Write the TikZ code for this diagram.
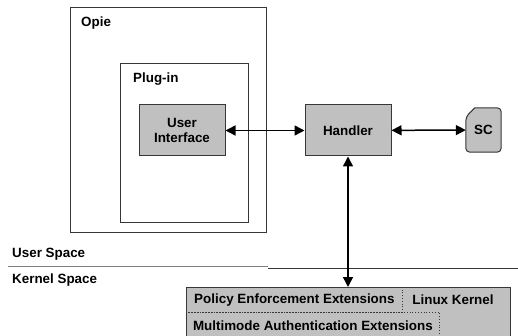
\documentclass[tikz,border=0pt]{standalone}
\usepackage{fontspec}
\setmainfont{Liberation Sans}
\usetikzlibrary{arrows.meta, positioning}
\definecolor{boxgray}{RGB}{192,192,192}
\definecolor{linegray}{RGB}{55,55,55}

\begin{document}
\begin{tikzpicture}[x=1pt, y=-1pt,
	font=\fontsize{13.4}{15.5}\selectfont\bfseries,
	frame/.style={draw=linegray, line width=1pt, anchor=north west, inner sep=0pt},
	block/.style={draw=linegray, line width=1pt, fill=boxgray, align=center, inner sep=0pt},
	dotbox/.style={draw=linegray, dotted, line width=.8pt, anchor=north west, inner sep=0pt},
	tag/.style={anchor=west, inner sep=0pt},
	link/.style={{Triangle[length=10pt,width=10pt]}-{Triangle[length=10pt,width=10pt]}, line width=1.5pt}]
	\useasboundingbox (0,0) rectangle (518,336);
	% user space
	\node[frame, minimum width=196pt, minimum height=225pt] (opie) at (70,7) {};
	\node[tag] (opielbl) at (81,23) {Opie};
	\node[frame, minimum width=128pt, minimum height=159pt] (plugin) at (120,63) {};
	\node[tag] (pluginlbl) at (133,79) {Plug-in};
	\node[block, minimum width=86pt, minimum height=51pt] (ui) at (182,130.5) {User\\Interface};
	\node[block, minimum width=86pt, minimum height=51pt] (handler) at (348,130.5) {Handler};
	\node[minimum width=35pt, minimum height=44pt, inner sep=0pt] (sc) at (483.5,130) {};
	\draw[linegray, line width=1pt, fill=boxgray, rounded corners=4pt]
	(sc.south west) -- ([yshift=-9pt]sc.north west) [sharp corners] -- ([xshift=9pt]sc.north west)
	[rounded corners=4pt] -- (sc.north east) -- (sc.south east) -- cycle;
	\node[inner sep=0pt] (sclbl) at (sc) {SC};
	% separator
	\draw[gray, line width=1pt] (8,266.7) -- (268,266.7);
	\draw[linegray, line width=1pt] (268,268) -- (518,268);
	\node[tag] (userlbl) at (12,254) {User Space};
	\node[tag] (kernellbl) at (12,280) {Kernel Space};
	% kernel
	\node[frame, fill=boxgray, minimum width=324pt, minimum height=60pt] (kernel) at (186,287) {};
	\node[dotbox, minimum width=216pt, minimum height=25pt] (policy) at (186,287) {};
	\node[dotbox, minimum width=253pt, minimum height=26pt] (multi) at (186,312) {};
	\node[inner sep=0pt] at (policy) {Policy Enforcement Extensions};
	\node[inner sep=0pt] (linux) at (453,300) {Linux Kernel};
	\node[inner sep=0pt] at (multi) {Multimode Authentication Extensions};
	\draw[link] (ui) -- (handler);
	\draw[link] (handler) -- (sc);
	\draw[link] (handler.south) -- (handler.south |- kernel.north);
\end{tikzpicture}
\end{document}
